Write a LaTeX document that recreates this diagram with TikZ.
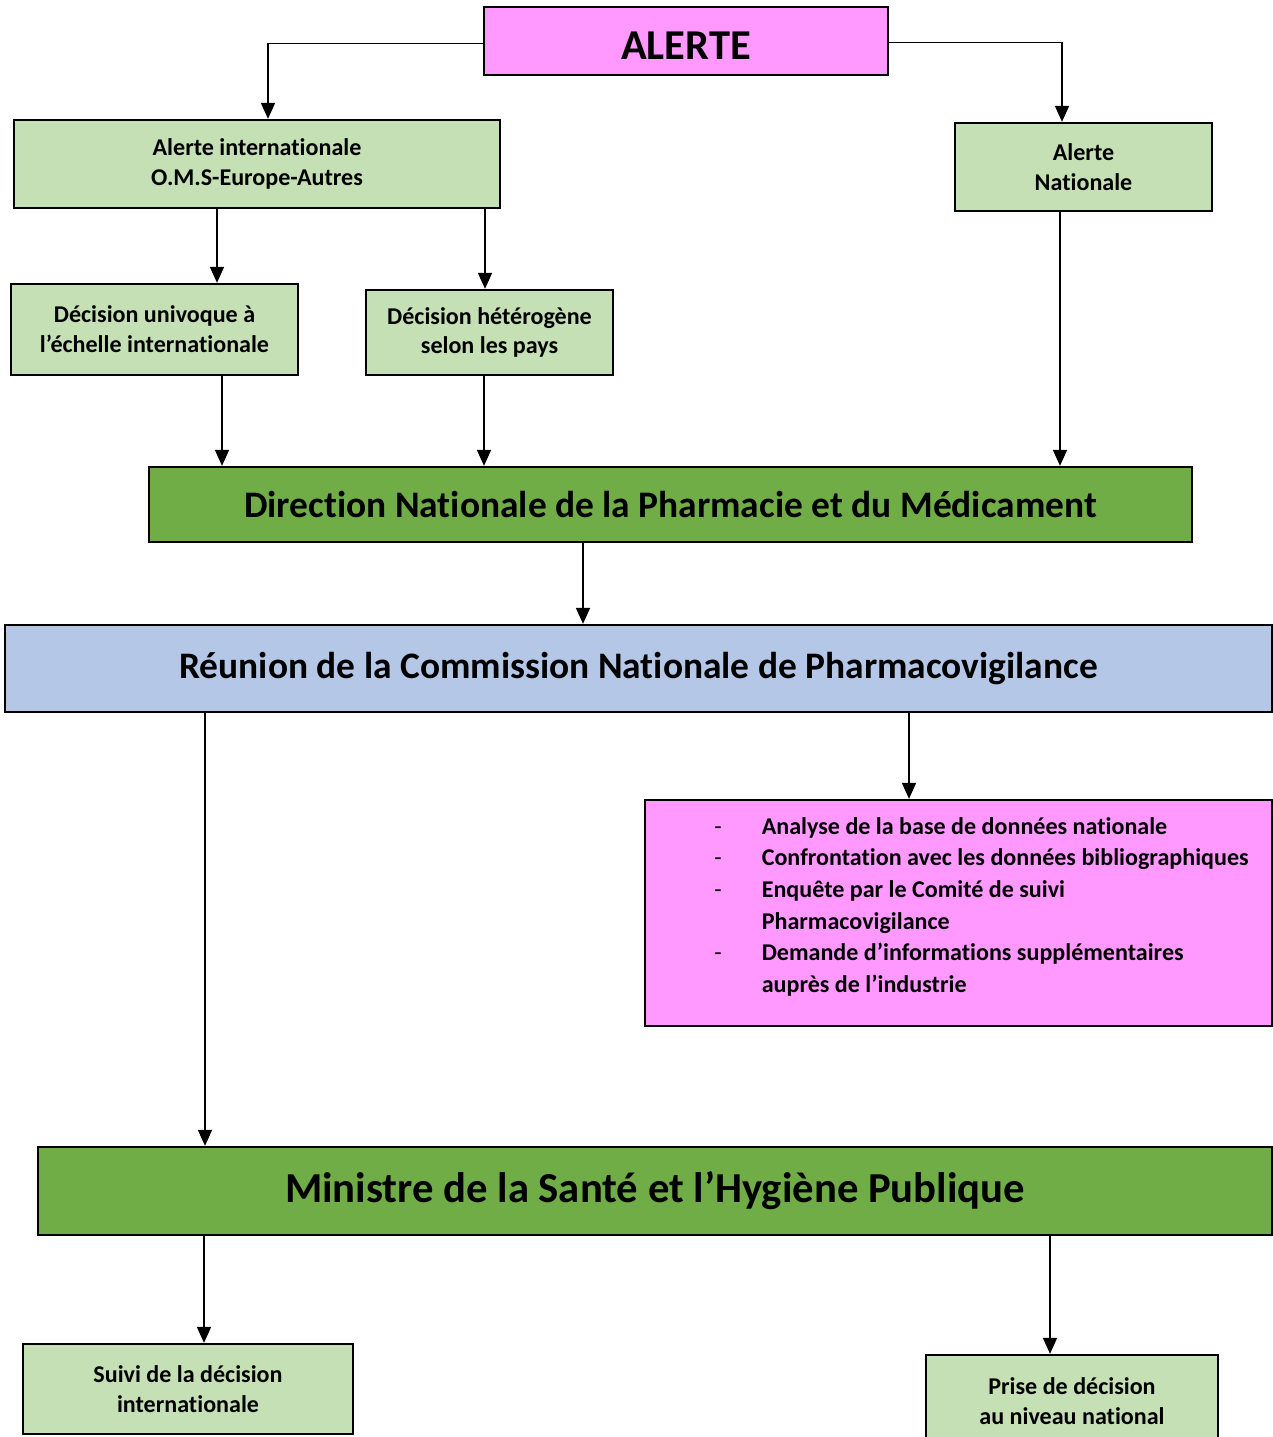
\documentclass[tikz,border=0pt]{standalone}
\usepackage{fontspec}
\setmainfont{Carlito}[Ligatures=NoCommon]
\usetikzlibrary{arrows.meta}
\definecolor{rose}{HTML}{FF99FF}
\definecolor{vertclair}{HTML}{C5E0B4}
\definecolor{vertfonce}{HTML}{70AD47}
\definecolor{bleu}{HTML}{B4C7E7}
\newcommand{\tiret}{{\mdseries -}}
\begin{document}
\begin{tikzpicture}[x=0.02cm, y=-0.02cm, >={Triangle[width=8pt,length=9pt]},
		boite/.style={draw, line width=1.4pt, inner sep=0pt, align=center, font=\bfseries\fontsize{13.7}{17}\selectfont},
		petit/.style={boite, fill=vertclair},
		grand/.style={boite, fill=vertfonce},
		fleche/.style={->, line width=0.6pt}]
				\clip (0,0) rectangle (1273,1437);
				\node[boite, fill=rose, minimum width=8.08cm, minimum height=1.36cm, text height=21pt, text depth=0pt, font=\bfseries\fontsize{24.2}{29}\selectfont] (alerte) at (686,41) {ALERTE};
				\node[petit, minimum width=9.72cm, minimum height=1.76cm] (alint) at (257,164) {Alerte internationale\\O.M.S-Europe-Autres};
				\node[petit, minimum width=5.14cm, minimum height=1.76cm] (alnat) at (1083.5,167) {Alerte\\Nationale};
				\node[petit, minimum width=5.74cm, minimum height=1.82cm] (univ) at (154.5,329.5) {Décision univoque à\\l’échelle internationale};
				\node[petit, minimum width=4.94cm, minimum height=1.70cm] (hetero) at (489.5,332.5) {Décision hétérogène\\selon les pays};
				\node[grand, minimum width=20.86cm, minimum height=1.50cm, font=\bfseries\fontsize{21.3}{25}\selectfont] (dnpm) at (670.5,504.5) {Direction Nationale de la Pharmacie et du Médicament};
				\node[boite, fill=bleu, minimum width=25.34cm, minimum height=1.74cm, font=\bfseries\fontsize{21.3}{25}\selectfont] (reunion) at (638.5,668.5) {Réunion de la Commission Nationale de Pharmacovigilance};
				\node[boite, fill=rose, minimum width=12.54cm, minimum height=4.52cm] (liste) at (958.5,913) {};
				\node[anchor=west, inner sep=0pt, font=\bfseries\fontsize{13.7}{18}\selectfont] (listetxt) at (714,907) {%
					\begin{tabular}{@{}p{15pt}l@{}}
						\tiret & Analyse de la base de données nationale\\
						\tiret & Confrontation avec les données bibliographiques\\
						\tiret & Enquête par le Comité de suivi\\
						       & Pharmacovigilance\\
						\tiret & Demande d’informations supplémentaires\\
						       & auprès de l’industrie
					\end{tabular}};
				\node[grand, minimum width=24.68cm, minimum height=1.76cm, font=\bfseries\fontsize{24.3}{29}\selectfont] (ministre) at (655,1191) {Ministre de la Santé et l’Hygiène Publique};
				\node[petit, minimum width=6.60cm, minimum height=1.80cm] (suivi) at (188,1389) {Suivi de la décision\\internationale};
				\node[petit, minimum width=5.84cm, minimum height=1.84cm] (prise) at (1072,1401) {Prise de décision\\au niveau national};
				\draw[fleche] ([yshift=-0.05cm]alerte.west) -| ([xshift=0.22cm]alint.north);
				\draw[fleche] ([yshift=-0.03cm]alerte.east) -| ([xshift=-0.43cm]alnat.north);
				\draw[fleche] (alint.south -| 217,0) -- (univ.north -| 217,0);
				\draw[fleche] (alint.south -| 485,0) -- (hetero.north -| 485,0);
				\draw[fleche] (alnat.south -| 1060,0) -- (dnpm.north -| 1060,0);
				\draw[fleche] (univ.south -| 222,0) -- (dnpm.north -| 222,0);
				\draw[fleche] (hetero.south -| 484,0) -- (dnpm.north -| 484,0);
				\draw[fleche] (dnpm.south -| 583,0) -- (reunion.north -| 583,0);
				\draw[fleche] (reunion.south -| 909,0) -- (liste.north -| 909,0);
				\draw[fleche] (reunion.south -| 205,0) -- (ministre.north -| 205,0);
				\draw[fleche] (ministre.south -| 204,0) -- (suivi.north -| 204,0);
				\draw[fleche] (ministre.south -| 1050,0) -- (prise.north -| 1050,0);
			\end{tikzpicture}
\end{document}
